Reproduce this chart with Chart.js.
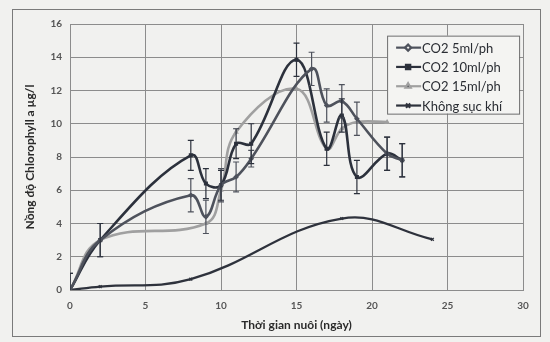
<!DOCTYPE html>
<html>
<head>
<meta charset="utf-8">
<script src="https://cdn.jsdelivr.net/npm/chart.js@4.4.1/dist/chart.umd.min.js"></script>
<style>
  html, body { margin: 0; padding: 0; background: #f1f1ef; }
  #wrap { position: absolute; left: 12px; top: 9px; width: 527px; height: 326px; border: 1px solid #7a7a7a; }
  canvas { display: block; }
</style>
</head>
<body>
<div id="wrap"><canvas id="c" width="527" height="326"></canvas></div>
<script>
// ---- data ----
const seriesLabels = ["CO2 5ml/ph", "CO2 10ml/ph", "CO2 15ml/ph", "Không sục khí"];

const x5   = [0, 2, 8, 9, 10, 11, 12, 16, 17, 18, 19, 21, 22];
const y5   = [0, 3, 5.7, 4.4, 6.3, 6.8, 7.9, 13.3, 11.1, 11.35, 10.3, 8.2, 7.8];
const e5   = [1, 1, 1, 1, 1, 0.9, 0.5, 1, 1, 1, 1, 1, 1];

const x10  = [0, 2, 8, 9, 10, 11, 12, 15, 17, 18, 19, 21, 22];
const y10  = [0, 3, 8.1, 6.4, 6.3, 8.8, 8.8, 13.85, 8.5, 10.5, 6.8, 8.2, 7.8];
const e10  = [1, 1, 0.9, 0.9, 0.9, 0.9, 1.2, 1, 1, 1, 1, 1, 1];

const x15  = [0, 2, 9, 10, 11, 15, 17, 18, 19, 21];
const y15  = [0, 3, 4.0, 6.0, 9.5, 12.1, 8.5, 9.7, 10.1, 10.1];

const x0   = [0, 2, 8, 18, 24];
const y0   = [0, 0.2, 0.65, 4.3, 3.05];

const xTicks = [0, 5, 10, 15, 20, 25, 30];
const yTicks = [0, 2, 4, 6, 8, 10, 12, 14, 16];

function pts(xs, ys) { return xs.map((x, i) => ({ x: x, y: ys[i] })); }

const errorBarPlugin = {
  id: 'errorBars',
  afterDatasetsDraw(chart) {
    const ctx = chart.ctx, a = chart.chartArea;
    const xs = chart.scales.x, ys = chart.scales.y;
    ctx.save();
    ctx.beginPath(); ctx.rect(a.left, a.top - 2, a.right - a.left, a.bottom - a.top + 2); ctx.clip();
    chart.data.datasets.forEach((ds, di) => {
      if (!ds.errors || !chart.isDatasetVisible(di)) return;
      ctx.strokeStyle = ds.borderColor; ctx.lineWidth = 1.2;
      ds.data.forEach((p, i) => {
        const e = ds.errors[i]; if (!e) return;
        const px = xs.getPixelForValue(p.x);
        const top = ys.getPixelForValue(p.y + e), bot = ys.getPixelForValue(p.y - e);
        ctx.beginPath();
        ctx.moveTo(px, top); ctx.lineTo(px, bot);
        ctx.moveTo(px - 3, top); ctx.lineTo(px + 3, top);
        ctx.moveTo(px - 3, bot); ctx.lineTo(px + 3, bot);
        ctx.stroke();
      });
    });
    ctx.restore();
  }
};

const legendPlugin = {
  id: 'boxLegend',
  afterDraw(chart) {
    const ctx = chart.ctx;
    const xs = chart.scales.x, ys = chart.scales.y;
    const bx = xs.getPixelForValue(21.0), by = ys.getPixelForValue(15.3);
    const bw = 132, bh = 78, row = 19.3;
    ctx.save();
    ctx.fillStyle = '#f4f4f2';
    ctx.fillRect(bx, by, bw, bh);
    ctx.strokeStyle = '#6e6e6e'; ctx.lineWidth = 1;
    ctx.strokeRect(bx + 0.5, by + 0.5, bw, bh);
    ctx.font = '13px Lato, "Open Sans", sans-serif';
    ctx.textBaseline = 'middle';
    chart.data.datasets.forEach((ds, i) => {
      const yy = by + 12 + i * row;
      ctx.strokeStyle = ds.borderColor; ctx.lineWidth = 2.2;
      ctx.beginPath(); ctx.moveTo(bx + 9, yy); ctx.lineTo(bx + 34, yy); ctx.stroke();
      Chart.helpers.drawPoint(ctx, {pointStyle: ds.pointStyle, radius: 3, borderWidth: 1.5, rotation: 0}, bx + 21, yy);
      ctx.fillStyle = '#2a2d33';
      ctx.fillText(ds.label, bx + 35, yy + 1);
    });
    ctx.restore();
  }
};

function ds(label, data, color, style, errors, width) {
  return {
    label: label, data: data, showLine: true, tension: 0.4,
    borderColor: color, backgroundColor: color, borderWidth: width || 2.6,
    pointStyle: style, pointRadius: 2, pointBorderWidth: 1.2,
    pointBackgroundColor: color, pointBorderColor: color,
    errors: errors
  };
}

new Chart(document.getElementById('c'), {
  type: 'scatter',
  data: {
    datasets: [
      ds(seriesLabels[0], pts(x5, y5), '#4e525c', 'rectRot', e5),
      ds(seriesLabels[1], pts(x10, y10), '#2c313c', 'rect', e10),
      ds(seriesLabels[2], pts(x15, y15), '#a0a0a0', 'triangle', null),
      ds(seriesLabels[3], pts(x0, y0), '#2e323c', 'crossRot', null, 2.3)
    ]
  },
  options: {
    responsive: false, animation: false,
    layout: { padding: { left: 8, right: 17, top: 11, bottom: 2 } },
    plugins: { legend: { display: false }, tooltip: { enabled: false } },
    scales: {
      x: {
        type: 'linear', min: 0, max: 30,
        afterBuildTicks(s) { s.ticks = xTicks.map(v => ({ value: v })); },
        afterFit(s) { s.height = 44; },
        grid: { color: '#8c8c8c', lineWidth: 1, drawTicks: false },
        border: { color: '#8c8c8c' },
        ticks: { padding: 10, color: '#555', font: { family: 'Lato', size: 10, weight: 'bold' } },
        title: { display: true, text: 'Thời gian nuôi (ngày)', color: '#2a2a2a', padding: { top: 2, bottom: 2 },
                 font: { family: 'Lato', size: 12, weight: 'bold' } }
      },
      y: {
        type: 'linear', min: 0, max: 16,
        afterBuildTicks(s) { s.ticks = yTicks.map(v => ({ value: v })); },
        afterFit(s) { s.width = 49; },
        grid: { color: '#8c8c8c', lineWidth: 1, drawTicks: false },
        border: { color: '#8c8c8c' },
        ticks: { padding: 8, color: '#555', font: { family: 'Lato', size: 10, weight: 'bold' } },
        title: { display: true, text: 'Nồng độ Chlorophyll a µg/l', color: '#2a2a2a', padding: { top: 2, bottom: 8 },
                 font: { family: 'Lato', size: 12, weight: 'bold' } }
      }
    }
  },
  plugins: [errorBarPlugin, legendPlugin]
});
</script>
</body>
</html>
